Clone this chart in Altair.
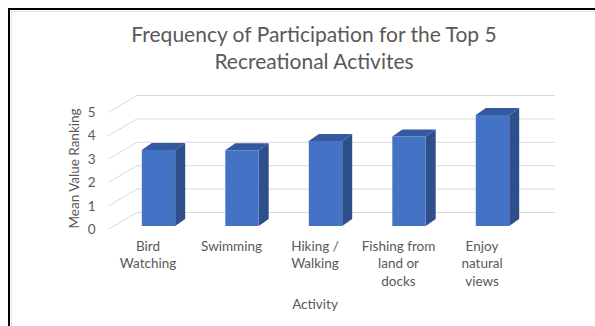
import altair as alt
import pandas as pd

# ---- data ----
activities = ["Bird Watching", "Swimming", "Hiking / Walking",
              "Fishing from land or docks", "Enjoy natural views"]
label_text = ["Bird\nWatching", "Swimming", "Hiking /\nWalking",
              "Fishing from\nland or\ndocks", "Enjoy\nnatural\nviews"]
mean_values = [3.25, 3.24, 3.63, 3.82, 4.74]
y_ticks = [0, 1, 2, 3, 4, 5]

title_lines = ["Frequency of Participation for the Top 5", "Recreational Activites"]
x_title = "Activity"
y_title = "Mean Value Ranking"

# ---- pseudo-3D geometry (in scale units) ----
W, H = 595, 326
X0, XS = 158.5, 83.5          # pixel of category 0 centre, pixels per category
Y0, YS = 229.5, 23.4          # pixel of value 0 (front), pixels per unit
x_dom = [-X0 / XS, (W - X0) / XS]
y_dom = [(Y0 - H) / YS, Y0 / YS]

half = 0.2                    # half bar width
base = 3.5 / YS               # bar front sits slightly behind the front edge
sdx, sdy = 10 / XS, 7 / YS    # bar depth offsets
wall_front, wall_back, wall_right = (108 - X0) / XS, (137 - X0) / XS, (555 - X0) / XS
wall_dy = 17 / YS
label_dx = -10.5 / XS

TXT = "#595959"
FONT = "Lato"

bars = pd.DataFrame({"i": range(len(activities)), "activity": activities,
                     "label": label_text, "value": mean_values})
bars["x1"] = bars["i"] - half
bars["x2"] = bars["i"] + half
bars["y1"] = base
bars["y2"] = base + bars["value"]
bars["lx"] = bars["i"] + label_dx

side_rows, top_rows = [], []
for _, r in bars.iterrows():
    side_rows.append({"activity": r.activity, "u": r.x2, "lo": base, "hi": base + r.value})
    side_rows.append({"activity": r.activity, "u": r.x2 + sdx, "lo": base + sdy, "hi": base + r.value + sdy})
    top_rows.append({"activity": r.activity, "v": base + r.value, "a": r.x1, "b": r.x2})
    top_rows.append({"activity": r.activity, "v": base + r.value + sdy, "a": r.x1 + sdx, "b": r.x2 + sdx})
side = pd.DataFrame(side_rows)
top = pd.DataFrame(top_rows)

grid = pd.DataFrame({"k": y_ticks})
grid["xf"] = wall_front
grid["xb"] = wall_back
grid["xr"] = wall_right
grid["yb"] = grid["k"] + wall_dy

xs = alt.Scale(domain=x_dom, nice=False, zero=False)
ys = alt.Scale(domain=y_dom, nice=False, zero=False)
y_axis = alt.Axis(values=y_ticks, offset=-100, domain=False, ticks=False,
                  grid=False, labelPadding=5, labelFont=FONT,
                  labelFontSize=13.5, labelColor=TXT, title=y_title,
                  titleFont=FONT, titleFontSize=13.5, titleFontWeight="normal",
                  titleColor=TXT, titleX=-26, titleY=168, titleAngle=270,
                  titleAlign="center", titleBaseline="middle")
X = lambda f: alt.X(f, type="quantitative", scale=xs, axis=None)
Yn = lambda f: alt.Y(f, type="quantitative", scale=ys, axis=y_axis)

GRID = "#d9d9d9"
back_lines = alt.Chart(grid).mark_rule(color=GRID, strokeWidth=1).encode(
    x=X("xb"), x2="xr", y=Yn("yb"))
diag_lines = alt.Chart(grid).mark_rule(color=GRID, strokeWidth=1).encode(
    x=X("xf"), x2="xb", y=Yn("k"), y2="yb")

side_faces = alt.Chart(side).mark_area(color="#2f4f8c", interpolate="linear").encode(
    x=X("u"), y=Yn("lo"), y2="hi", detail="activity:N")
top_faces = alt.Chart(top).mark_area(color="#34599e", orient="horizontal",
                                     interpolate="linear").encode(
    y=Yn("v"), x=X("a"), x2="b", detail="activity:N")
front_faces = alt.Chart(bars).mark_rect(color="#4472c4").encode(
    x=X("x1"), x2="x2", y=Yn("y1"), y2="y2")

cat_labels = alt.Chart(bars).mark_text(
    font=FONT, fontSize=13.5, color=TXT, lineBreak="\n", lineHeight=17.5,
    baseline="top", align="center").encode(
    x=X("lx"), y=alt.value(239.5), text="label:N")

title_txt = alt.Chart(pd.DataFrame({"t": [title_lines]})).mark_text(
    font=FONT, fontSize=21, color=TXT, lineHeight=26.5, baseline="alphabetic",
    align="center").encode(x=alt.value(314), y=alt.value(42), text="t")

x_title_txt = alt.Chart(pd.DataFrame({"t": [x_title]})).mark_text(
    font=FONT, fontSize=13.5, color=TXT, baseline="middle", align="center").encode(
    x=alt.value(315), y=alt.value(305), text="t")

frame_top = alt.Chart(pd.DataFrame({"d": [0]})).mark_rule(color="black", strokeWidth=2).encode(
    x=alt.value(8), x2=alt.value(W), y=alt.value(9))
frame_left = alt.Chart(pd.DataFrame({"d": [0]})).mark_rule(color="black", strokeWidth=2).encode(
    x=alt.value(9), y=alt.value(8), y2=alt.value(H))
inner_top = alt.Chart(pd.DataFrame({"d": [0]})).mark_rule(color="#e6e6e6", strokeWidth=1).encode(
    x=alt.value(11), x2=alt.value(W), y=alt.value(11.5))
inner_left = alt.Chart(pd.DataFrame({"d": [0]})).mark_rule(color="#e6e6e6", strokeWidth=1).encode(
    x=alt.value(11.5), y=alt.value(11), y2=alt.value(H))

chart = alt.layer(
    inner_top, inner_left, back_lines, diag_lines, side_faces, top_faces, front_faces,
    cat_labels, title_txt, x_title_txt, frame_top, frame_left
).properties(
    width=W, height=H, autosize=alt.AutoSizeParams(type="none"), padding=0,
    background="white"
).configure_view(stroke=None)

chart.save("out.html", embed_options={"renderer": "svg", "actions": False})
